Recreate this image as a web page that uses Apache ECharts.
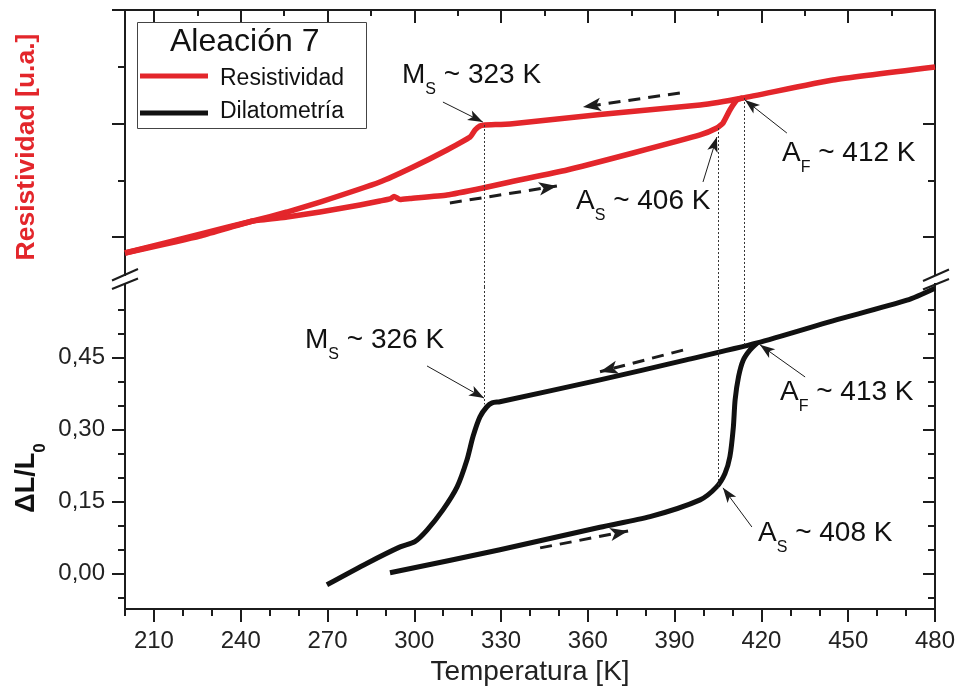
<!DOCTYPE html>
<html>
<head>
<meta charset="utf-8">
<script src="https://cdn.jsdelivr.net/npm/echarts@6/dist/echarts.min.js"></script>
<style>
  html, body { margin: 0; padding: 0; background: #fff; }
  #chart { width: 958px; height: 697px; }
</style>
</head>
<body>
<div id="chart"></div>
<script>
// ---- Temperature axis ticks (K) ----
const tempLabels      = [210, 240, 270, 300, 330, 360, 390, 420, 450, 480];
const tempMinorTicks  = [200, 220, 230, 250, 260, 280, 290, 310, 320, 340, 350, 370, 380, 400, 410, 430, 440, 460, 470];
const tempTopMinor    = [225, 255, 285, 315, 345, 375, 405, 435, 465];

// ---- ΔL/L0 axis ticks ----
const dilLabels     = [0, 0.15, 0.30, 0.45];
const dilMinorTicks = [-0.05, 0.05, 0.10, 0.20, 0.25, 0.35, 0.40, 0.50, 0.55];

// ---- Resistivity axis ticks (arbitrary units) ----
const resMajorTicks = [1, 2, 3];
const resMinorTicks = [1.5, 2.5];

// ---- Resistivity, heating branch ----
const resHeatT = [200, 225.9, 244.2, 256.0, 267.4, 281.2, 288.1, 291.6, 293.0, 295.1, 298.5, 311.3, 323.7, 333.1, 352.8, 375.6, 398.8, 404.6, 406.7, 409.1, 411.5, 413.6];
const resHeatV = [0.859, 1.009, 1.141, 1.176, 1.220, 1.282, 1.317, 1.335, 1.357, 1.330, 1.339, 1.370, 1.432, 1.485, 1.590, 1.740, 1.899, 1.960, 2.004, 2.119, 2.207, 2.225];

// ---- Resistivity, cooling branch ----
const resCoolT = [480, 444.7, 413.6, 398.8, 364.2, 333.1, 324.4, 322.7, 321.0, 319.3, 311.3, 299.6, 288.1, 267.4, 256.0, 244.2, 225.9, 200];
const resCoolV = [2.498, 2.383, 2.225, 2.163, 2.080, 1.996, 1.987, 1.978, 1.943, 1.881, 1.767, 1.617, 1.485, 1.308, 1.220, 1.141, 1.026, 0.859];

// ---- Dilatometry, heating branch ----
const dilHeatT = [291.6, 329.6, 364.2, 381.5, 398.8, 404.5, 407.4, 409.1, 410.3, 410.9, 412.1, 413.7, 416.0, 418.4];
const dilHeatV = [0.001, 0.049, 0.096, 0.118, 0.153, 0.180, 0.208, 0.243, 0.305, 0.361, 0.410, 0.444, 0.465, 0.479];

// ---- Dilatometry, cooling branch ----
const dilCoolT = [480, 470.3, 444.7, 418.5, 392.9, 364.2, 329.6, 326.9, 325.1, 322.7, 320.3, 318.2, 314.8, 309.9, 304.4, 300.2, 295.1, 283.7, 269.8];
const dilCoolV = [0.594, 0.569, 0.526, 0.480, 0.443, 0.403, 0.3575, 0.355, 0.347, 0.326, 0.285, 0.236, 0.180, 0.132, 0.090, 0.066, 0.055, 0.021, -0.024];

// ---- Transition temperatures quoted in the labels ----
const resTransitions = { Ms: 323, As: 406, Af: 412 };
const dilTransitions = { Ms: 326, As: 408, Af: 413 };

// ---- Vertical guide lines joining both curves: [T, resistivity, ΔL/L0] ----
const guideT   = [324.3, 405.2, 414.1];
const guideRes = [1.987, 1.960, 2.225];
const guideDil = [0.352, 0.178, 0.476];

// ---- Pointer arrows [fromT, fromV, toT, toV] ----
const resPointers = [[309.9, 2.189, 323.7, 2.013], [399.8, 1.485, 404.6, 1.881], [428.8, 1.916, 414.3, 2.207]];
const dilPointers = [[304.4, 0.432, 324.1, 0.365], [435.1, 0.409, 419.5, 0.476], [416.7, 0.0965, 406.7, 0.178]];

// ---- Dashed heating / cooling direction arrows ----
const resDirArrows = [[391.8, 2.269, 358.3, 2.145], [312.3, 1.300, 349.3, 1.449]];
const dilDirArrows = [[392.9, 0.465, 364.2, 0.420], [343.5, 0.053, 373.9, 0.088]];

// ---- Layout and style ----
const RED = '#e3262b';
const INK = '#1c1c1c';
const FONT = '"Liberation Sans", Arial, sans-serif';
const RES_MIN = 0.5595, RES_MAX = 3;
const DIL_MIN = -0.0744, DIL_MAX = 0.5965;

const pairs = (xs, ys) => xs.map((x, i) => [x, ys[i]]);

const ctx = document.createElement('canvas').getContext('2d');
function textWidth(str, font) { ctx.font = font; return ctx.measureText(str).width; }

function tickAxis(base, ticks, len, inside, showLine) {
  return Object.assign({
    type: 'value',
    axisLine: { show: showLine, onZero: false, lineStyle: { color: INK, width: 2 } },
    axisTick: { show: true, inside: inside, length: len, customValues: ticks, lineStyle: { color: INK, width: 2 } },
    axisLabel: { show: false },
    splitLine: { show: false }
  }, base);
}

// Label like "M_S ~ 323 K" built from three text pieces
function subLabel(x, yc, main, sub, rest, size, subSize, subDy, color, weight) {
  const f1 = `${weight} ${size}px ${FONT}`;
  const f2 = `${weight} ${subSize}px ${FONT}`;
  const w1 = textWidth(main, f1), w2 = textWidth(sub, f2);
  const st = (t, f) => ({ text: t, font: f, fill: color, textAlign: 'left', textVerticalAlign: 'middle' });
  return [
    { type: 'text', x: x, y: yc, z: 100, style: st(main, f1) },
    { type: 'text', x: x + w1, y: yc + subDy, z: 100, style: st(sub, f2) },
    { type: 'text', x: x + w1 + w2, y: yc, z: 100, style: st(rest, f1) }
  ];
}

function arrowLines(list, width, dash, size) {
  return list.map(a => [
    { coord: [a[0], a[1]], symbol: 'none', lineStyle: { color: INK, width: width, type: dash } },
    { coord: [a[2], a[3]], symbol: 'arrow', symbolSize: size, lineStyle: { color: INK, width: width, type: dash } }
  ]);
}

const dotted = { color: '#333', width: 1, type: [2, 2] };
const resMarks = [].concat(
  guideT.map((t, i) => [{ coord: [t, guideRes[i]], symbol: 'none', lineStyle: dotted },
                        { coord: [t, RES_MIN], symbol: 'none', lineStyle: dotted }]),
  arrowLines(resPointers, 1, 'solid', [8, 15]),
  arrowLines(resDirArrows, 3, [12, 8], [10, 18])
);
const dilMarks = [].concat(
  guideT.map((t, i) => [{ coord: [t, DIL_MAX], symbol: 'none', lineStyle: dotted },
                        { coord: [t, guideDil[i]], symbol: 'none', lineStyle: dotted }]),
  arrowLines(dilPointers, 1, 'solid', [8, 15]),
  arrowLines(dilDirArrows, 3, [12, 8], [10, 18])
);

const chart = echarts.init(document.getElementById('chart'), null, { renderer: 'canvas' });

const lbl = (k, sub, t) => [k, sub, ` ~ ${t} K`];
const graphics = [].concat(
  // legend box
  [{ type: 'rect', z: 90, shape: { x: 137.5, y: 22.5, width: 229, height: 106 }, style: { fill: '#fff', stroke: '#444', lineWidth: 1 } },
   { type: 'text', z: 100, x: 170, y: 42, style: { text: 'Aleación 7', font: `32px ${FONT}`, fill: '#111', textVerticalAlign: 'middle' } },
   { type: 'rect', z: 100, shape: { x: 140, y: 73.5, width: 68, height: 5 }, style: { fill: RED } },
   { type: 'text', z: 100, x: 220, y: 79, style: { text: 'Resistividad', font: `23px ${FONT}`, fill: '#111', textVerticalAlign: 'middle' } },
   { type: 'rect', z: 100, shape: { x: 140, y: 110.5, width: 68, height: 5 }, style: { fill: '#111' } },
   { type: 'text', z: 100, x: 220, y: 112, style: { text: 'Dilatometría', font: `23px ${FONT}`, fill: '#111', textVerticalAlign: 'middle' } }],
  // transition labels
  subLabel(402, 75, ...lbl('M', 'S', resTransitions.Ms), 28, 16, 15, '#111', 'normal'),
  subLabel(576, 201, ...lbl('A', 'S', resTransitions.As), 28, 16, 15, '#111', 'normal'),
  subLabel(782, 153, ...lbl('A', 'F', resTransitions.Af), 28, 16, 15, '#111', 'normal'),
  subLabel(305, 340, ...lbl('M', 'S', dilTransitions.Ms), 28, 16, 15, '#111', 'normal'),
  subLabel(780, 392, ...lbl('A', 'F', dilTransitions.Af), 28, 16, 15, '#111', 'normal'),
  subLabel(758, 533, ...lbl('A', 'S', dilTransitions.As), 28, 16, 15, '#111', 'normal'),
  // axis breaks
  [{ type: 'rect', z: 100, shape: { x: 119, y: 276, width: 11, height: 7 }, style: { fill: '#fff' } },
   { type: 'rect', z: 100, shape: { x: 930, y: 276, width: 11, height: 7 }, style: { fill: '#fff' } },
   { type: 'line', z: 101, shape: { x1: 112, y1: 280.5, x2: 138, y2: 269 }, style: { stroke: INK, lineWidth: 2 } },
   { type: 'line', z: 101, shape: { x1: 112, y1: 289, x2: 138, y2: 278.5 }, style: { stroke: INK, lineWidth: 2 } },
   { type: 'line', z: 101, shape: { x1: 923, y1: 281, x2: 949, y2: 269.5 }, style: { stroke: INK, lineWidth: 2 } },
   { type: 'line', z: 101, shape: { x1: 923, y1: 289.5, x2: 949, y2: 279 }, style: { stroke: INK, lineWidth: 2 } }],
  // left axis titles
  [{ type: 'text', z: 100, x: 27, y: 147, rotation: Math.PI / 2,
     style: { text: 'Resistividad [u.a.]', font: `bold 26.5px ${FONT}`, fill: RED, textAlign: 'center', textVerticalAlign: 'middle' } }]
);

// ΔL/L0 title, rotated, with subscript
(function () {
  const f1 = `bold 27px ${FONT}`, f2 = `bold 17px ${FONT}`;
  const w1 = textWidth('ΔL/L', f1), w2 = textWidth('0', f2);
  const x0 = -(w1 + w2) / 2;
  graphics.push({
    type: 'group', x: 27, y: 478, rotation: Math.PI / 2, z: 100,
    children: [
      { type: 'text', x: x0, y: 0, style: { text: 'ΔL/L', font: f1, fill: '#111', textVerticalAlign: 'middle' } },
      { type: 'text', x: x0 + w1, y: 13, style: { text: '0', font: f2, fill: '#111', textVerticalAlign: 'middle' } }
    ]
  });
})();

const option = {
  animation: false,
  backgroundColor: '#fff',
  grid: [
    { left: 125, top: 10, width: 810, height: 277, outerBoundsMode: 'none', containLabel: false },
    { left: 125, top: 287, width: 810, height: 322, outerBoundsMode: 'none', containLabel: false }
  ],
  xAxis: [
    tickAxis({ gridIndex: 0, position: 'top', min: 200, max: 480 }, tempLabels, 13, true, true),
    tickAxis({ gridIndex: 0, position: 'top', min: 200, max: 480 }, tempTopMinor, 6, true, false),
    Object.assign(tickAxis({ gridIndex: 1, position: 'bottom', min: 200, max: 480 }, tempLabels, 13, false, true), {
      axisLabel: { show: true, customValues: tempLabels, margin: 20, fontSize: 24, fontFamily: FONT, color: '#222' },
      name: 'Temperatura [K]', nameLocation: 'middle', nameGap: 49,
      nameTextStyle: { fontSize: 28, fontFamily: FONT, color: '#222' }
    }),
    tickAxis({ gridIndex: 1, position: 'bottom', min: 200, max: 480 }, tempMinorTicks, 7, false, false)
  ],
  yAxis: [
    tickAxis({ gridIndex: 0, position: 'left', min: RES_MIN, max: RES_MAX }, resMajorTicks, 13, false, true),
    tickAxis({ gridIndex: 0, position: 'left', min: RES_MIN, max: RES_MAX }, resMinorTicks, 7, false, false),
    tickAxis({ gridIndex: 0, position: 'right', min: RES_MIN, max: RES_MAX }, resMajorTicks, 12, true, true),
    tickAxis({ gridIndex: 0, position: 'right', min: RES_MIN, max: RES_MAX }, resMinorTicks, 7, true, false),
    Object.assign(tickAxis({ gridIndex: 1, position: 'left', min: DIL_MIN, max: DIL_MAX }, dilLabels, 13, false, true), {
      axisLabel: { show: true, customValues: dilLabels, margin: 20, fontSize: 24, fontFamily: FONT, color: '#222',
                   formatter: v => v.toFixed(2).replace('.', ',') }
    }),
    tickAxis({ gridIndex: 1, position: 'left', min: DIL_MIN, max: DIL_MAX }, dilMinorTicks, 7, false, false),
    tickAxis({ gridIndex: 1, position: 'right', min: DIL_MIN, max: DIL_MAX }, dilLabels, 12, true, true),
    tickAxis({ gridIndex: 1, position: 'right', min: DIL_MIN, max: DIL_MAX }, dilMinorTicks, 7, true, false)
  ],
  series: [
    { name: 'Resistividad', type: 'line', xAxisIndex: 0, yAxisIndex: 0, data: pairs(resHeatT, resHeatV),
      symbol: 'none', smooth: 0.15, lineStyle: { color: RED, width: 5.5, join: 'round' }, z: 3,
      markLine: { silent: true, symbol: ['none', 'arrow'], label: { show: false }, emphasis: { disabled: true }, data: resMarks } },
    { name: 'Resistividad', type: 'line', xAxisIndex: 0, yAxisIndex: 0, data: pairs(resCoolT, resCoolV),
      symbol: 'none', smooth: 0.15, lineStyle: { color: RED, width: 5.5, join: 'round' }, z: 3 },
    { name: 'Dilatometría', type: 'line', xAxisIndex: 2, yAxisIndex: 4, data: pairs(dilHeatT, dilHeatV),
      symbol: 'none', smooth: 0.25, lineStyle: { color: '#111', width: 5, join: 'round' }, z: 3,
      markLine: { silent: true, symbol: ['none', 'arrow'], label: { show: false }, emphasis: { disabled: true }, data: dilMarks } },
    { name: 'Dilatometría', type: 'line', xAxisIndex: 2, yAxisIndex: 4, data: pairs(dilCoolT, dilCoolV),
      symbol: 'none', smooth: 0.25, lineStyle: { color: '#111', width: 5, join: 'round' }, z: 3 }
  ],
  graphic: { elements: graphics }
};

chart.setOption(option);
</script>
</body>
</html>
